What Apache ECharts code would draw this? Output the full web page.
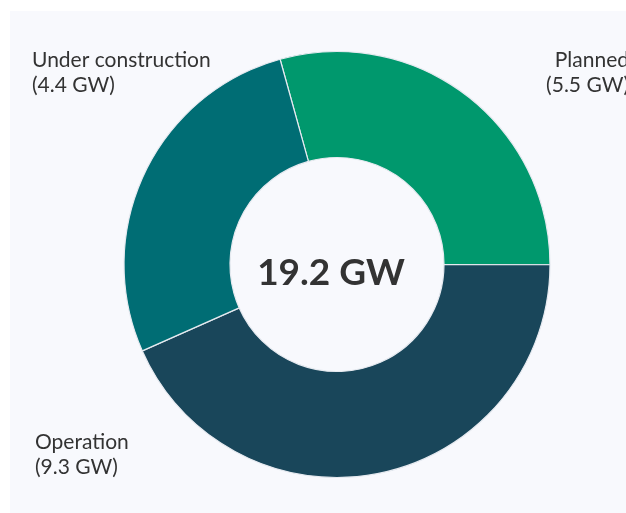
<!DOCTYPE html>
<html>
<head>
<meta charset="utf-8">
<script src="https://cdn.jsdelivr.net/npm/echarts@6/dist/echarts.min.js"></script>
<style>
  html, body { margin: 0; padding: 0; background: #fff; }
  #chart { position: absolute; left: 10px; top: 11px; width: 616px; height: 502px; background: #f8f9fd; }
</style>
</head>
<body>
<div id="chart"></div>
<script>
// slice order runs clockwise from the top-left
const stages = ['Planned', 'Operation', 'Under construction'];
const capacityGW = [5.5, 9.3, 4.4];
// slice sizes as drawn (they are not exactly proportional to the GW labels)
const sliceShare = [5.63, 8.32, 5.25];
const colors = ['#00986d', '#19465a', '#006d74'];

const total = capacityGW.reduce((a, b) => a + b, 0);

// label anchors: [x, y, align]
const labelSpots = [
  [619, 62, 'right'],
  [25, 444, 'left'],
  [22, 62, 'left'],
];

const chart = echarts.init(document.getElementById('chart'));
chart.setOption({
  backgroundColor: 'transparent',
  animation: false,
  textStyle: { fontFamily: 'Lato' },
  graphic: [{
    type: 'text',
    x: 321,
    y: 262,
    style: {
      text: total.toFixed(1) + ' GW',
      font: 'bold 37px Lato',
      fill: '#333333',
      align: 'center',
      verticalAlign: 'middle',
    },
  }],
  series: [{
    type: 'pie',
    center: [327, 253.5],
    radius: [107, 213],
    startAngle: 105.5,
    clockwise: true,
    itemStyle: { borderColor: '#e6eaf0', borderWidth: 1.2 },
    emphasis: { disabled: true },
    labelLine: { show: false },
    label: {
      show: true,
      position: 'outside',
      fontSize: 21,
      lineHeight: 25,
      color: '#333333',
      overflow: 'none',
      width: 300,
      formatter: (p) => `${p.name}\n(${capacityGW[p.dataIndex]} GW)`,
    },
    labelLayout: (p) => {
      const s = labelSpots[p.dataIndex];
      return { x: s[0], y: s[1], align: s[2], verticalAlign: 'middle', hideOverlap: false };
    },
    data: stages.map((name, i) => ({
      name,
      value: sliceShare[i],
      itemStyle: { color: colors[i] },
    })),
  }],
});
</script>
</body>
</html>
